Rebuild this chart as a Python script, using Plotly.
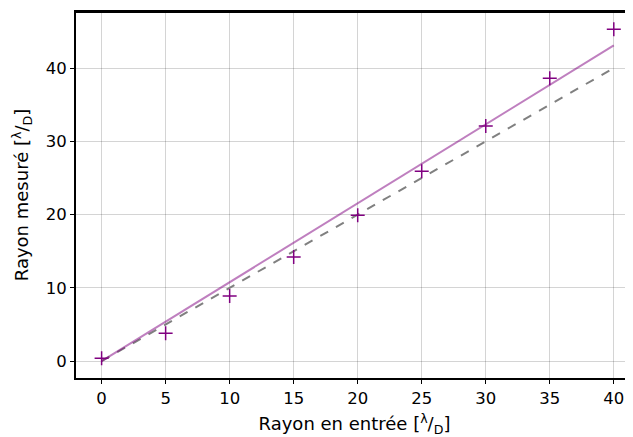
import plotly.graph_objects as go

rayon_entree = [0, 5, 10, 15, 20, 25, 30, 35, 40]
rayon_mesure = [0.4, 3.8, 8.9, 14.2, 19.9, 25.9, 32.1, 38.6, 45.3]
fit_x = [0, 40]
fit_y = [0.0, 43.1]
ref_x = [0, 40]
ref_y = [0, 40]
xticks = [0, 5, 10, 15, 20, 25, 30, 35, 40]
yticks = [0, 10, 20, 30, 40]

fig = go.Figure()
fig.add_trace(go.Scatter(x=ref_x, y=ref_y, mode="lines",
                         line=dict(color="#808080", width=2, dash="dash"),
                         showlegend=False))
fig.add_trace(go.Scatter(x=fit_x, y=fit_y, mode="lines",
                         line=dict(color="rgba(128,0,128,0.5)", width=2),
                         showlegend=False))
fig.add_trace(go.Scatter(x=rayon_entree, y=rayon_mesure, mode="markers",
                         marker=dict(symbol="cross-thin", size=10,
                                     line=dict(color="#800080", width=1.5)),
                         showlegend=False))

font = dict(family="DejaVu Sans", size=16.5, color="black")
fig.update_layout(
    width=625, height=429,
    margin=dict(l=68, r=0, t=4, b=59),
    paper_bgcolor="white", plot_bgcolor="white",
    font=font,
    xaxis=dict(range=[-2, 41.5], tickvals=xticks, showgrid=True,
               gridcolor="rgba(0,0,0,0.17)", gridwidth=1,
               showline=True, linecolor="black", linewidth=2, mirror=True,
               ticks="outside", ticklen=4, tickwidth=1, tickcolor="black",
               zeroline=False, automargin=False,
               title=dict(text="Rayon en entrée [<sup>λ</sup>/<sub>D</sub>]",
                          standoff=12, font=dict(size=18))),
    yaxis=dict(range=[-2.3, 47.65], tickvals=yticks, showgrid=True,
               gridcolor="rgba(0,0,0,0.17)", gridwidth=1,
               showline=True, linecolor="black", linewidth=2, mirror=False,
               ticks="outside", ticklen=4, tickwidth=1, tickcolor="black",
               zeroline=False, automargin=False,
               title=dict(text="Rayon mesuré [<sup>λ</sup>/<sub>D</sub>]",
                          standoff=12, font=dict(size=18))),
)
fig.add_shape(type="line", xref="paper", yref="paper", x0=0, x1=1, y0=1, y1=1,
              line=dict(color="black", width=2))
fig.write_html("out.html")
